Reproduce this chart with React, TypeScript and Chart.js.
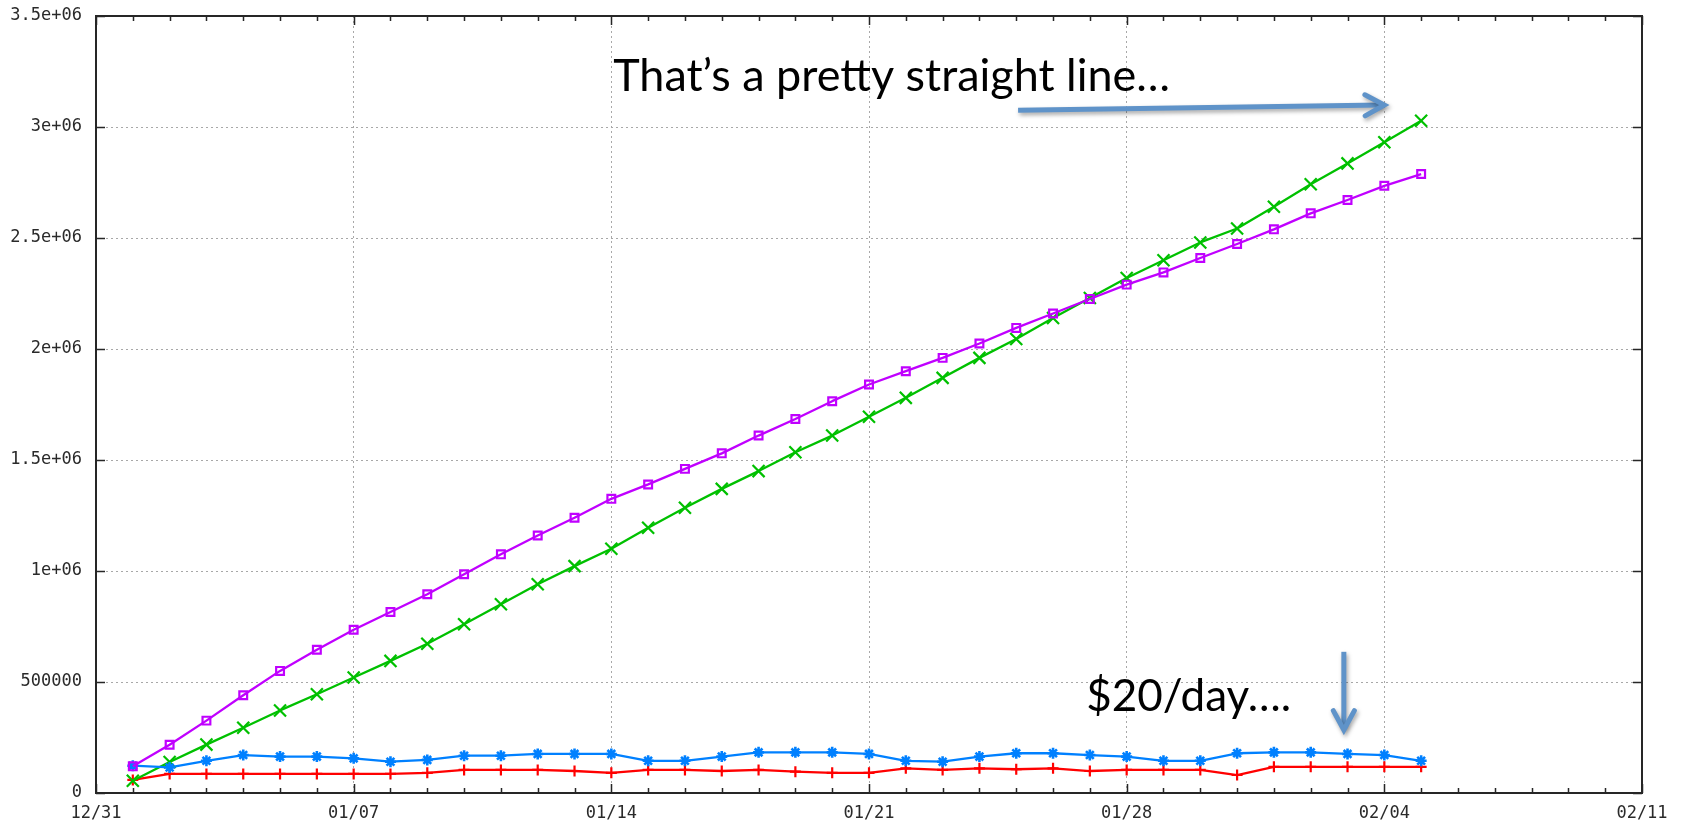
import React, { useEffect, useRef } from 'react';
import { Chart, registerables } from 'chart.js';

Chart.register(...registerables);

// ---- data ----
const dates = [
  '01/01', '01/02', '01/03', '01/04', '01/05', '01/06', '01/07', '01/08', '01/09', '01/10',
  '01/11', '01/12', '01/13', '01/14', '01/15', '01/16', '01/17', '01/18', '01/19', '01/20',
  '01/21', '01/22', '01/23', '01/24', '01/25', '01/26', '01/27', '01/28', '01/29', '01/30',
  '01/31', '02/01', '02/02', '02/03', '02/04', '02/05',
];

const redSeries = [
  59000, 86000, 86000, 86000, 86000, 86000, 86000, 86000, 91000, 104000,
  104000, 104000, 99000, 91000, 104000, 104000, 99000, 104000, 96000, 91000,
  91000, 111000, 104000, 111000, 107000, 111000, 99000, 104000, 104000, 104000,
  81000, 118000, 118000, 118000, 118000, 118000,
];

const greenSeries = [
  55000, 140000, 218000, 294000, 372000, 445000, 520000, 595000, 672000, 760000,
  850000, 940000, 1022000, 1100000, 1195000, 1285000, 1370000, 1450000, 1535000, 1610000,
  1695000, 1780000, 1870000, 1960000, 2045000, 2140000, 2230000, 2320000, 2400000, 2480000,
  2543000, 2641000, 2742000, 2836000, 2931000, 3028000,
];

const blueSeries = [
  123000, 115000, 145000, 171000, 164000, 164000, 156000, 141000, 149000, 168000,
  168000, 176000, 176000, 176000, 145000, 145000, 164000, 183000, 183000, 183000,
  176000, 145000, 141000, 164000, 179000, 179000, 171000, 164000, 145000, 145000,
  179000, 183000, 183000, 176000, 171000, 145000,
];

const purpleSeries = [
  120000, 217000, 326000, 440000, 550000, 645000, 735000, 815000, 895000, 985000,
  1075000, 1160000, 1240000, 1325000, 1390000, 1460000, 1530000, 1610000, 1685000, 1765000,
  1840000, 1900000, 1960000, 2025000, 2095000, 2160000, 2225000, 2290000, 2345000, 2410000,
  2473000, 2539000, 2611000, 2671000, 2735000, 2788000,
];

const xTickLabels = ['12/31', '01/07', '01/14', '01/21', '01/28', '02/04', '02/11'];
const yTickLabels = ['0', '500000', '1e+06', '1.5e+06', '2e+06', '2.5e+06', '3e+06', '3.5e+06'];

// ---- helpers ----
const ORIGIN = Date.UTC(2012, 11, 31);
function dayOffset(label: string): number {
  const [m, d] = label.split('/').map(Number);
  const year = m === 12 ? 2012 : 2013;
  return Math.round((Date.UTC(year, m - 1, d) - ORIGIN) / 86400000);
}
const X_MAX = dayOffset('02/11');
const toPoints = (vals: number[]) => vals.map((v, i) => ({ x: dayOffset(dates[i]), y: v }));

const TEXT_COLOR = '#2a2a2a';
const ARROW_COLOR = '#5f93c9';

const annotationTexts = [
  { text: 'That\u2019s a pretty straight line\u2026', x: 14.05, y: 3160000, width: 557 },
  { text: '$20/day\u2026.', x: 26.9, y: 368000, width: 205 },
];
const annotationArrows = [
  { from: [25.05, 3076000], to: [35.0, 3099000] },
  { from: [33.9, 636000], to: [33.9, 284000] },
];

const framePlugin = {
  id: 'gnuFrame',
  beforeDatasetsDraw(chart: any) {
    const { ctx, chartArea: a, scales } = chart;
    const xs = scales.x;
    const ys = scales.y;
    ctx.save();
    ctx.strokeStyle = '#262626';
    ctx.lineWidth = 1.5;
    ctx.beginPath();
    for (let d = xs.min; d <= xs.max; d++) {
      const px = Math.round(xs.getPixelForValue(d)) + 0.5;
      const len = d % 7 === 0 ? 9 : 5;
      ctx.moveTo(px, a.bottom);
      ctx.lineTo(px, a.bottom - len);
      ctx.moveTo(px, a.top);
      ctx.lineTo(px, a.top + len);
    }
    for (const t of ys.ticks) {
      const py = Math.round(ys.getPixelForValue(t.value)) + 0.5;
      ctx.moveTo(a.left, py);
      ctx.lineTo(a.left + 9, py);
      ctx.moveTo(a.right, py);
      ctx.lineTo(a.right - 9, py);
    }
    ctx.stroke();
    ctx.lineWidth = 2;
    ctx.strokeRect(a.left, a.top, a.right - a.left, a.bottom - a.top);
    ctx.restore();
  },
};

const annotationPlugin = {
  id: 'slideNotes',
  afterDraw(chart: any) {
    const { ctx, scales } = chart;
    const xs = scales.x;
    const ys = scales.y;
    ctx.save();
    ctx.fillStyle = '#000000';
    ctx.textBaseline = 'alphabetic';
    ctx.textAlign = 'left';
    for (const n of annotationTexts) {
      ctx.font = '100px Lato';
      const w = ctx.measureText(n.text).width;
      const size = (100 * n.width) / w;
      ctx.font = `${size}px Lato`;
      ctx.fillText(n.text, xs.getPixelForValue(n.x), ys.getPixelForValue(n.y));
    }
    ctx.strokeStyle = ARROW_COLOR;
    ctx.lineWidth = 5;
    ctx.shadowColor = 'rgba(0,0,0,0.35)';
    ctx.shadowBlur = 4;
    ctx.shadowOffsetX = 1.5;
    ctx.shadowOffsetY = 2.5;
    for (const ar of annotationArrows) {
      const x1 = xs.getPixelForValue(ar.from[0]);
      const y1 = ys.getPixelForValue(ar.from[1]);
      const x2 = xs.getPixelForValue(ar.to[0]);
      const y2 = ys.getPixelForValue(ar.to[1]);
      const ang = Math.atan2(y2 - y1, x2 - x1);
      const head = 22;
      const spread = 0.5;
      ctx.lineCap = 'butt';
      ctx.beginPath();
      ctx.moveTo(x1, y1);
      ctx.lineTo(x2 - Math.cos(ang) * 3, y2 - Math.sin(ang) * 3);
      ctx.stroke();
      ctx.lineCap = 'round';
      ctx.lineJoin = 'miter';
      ctx.beginPath();
      ctx.moveTo(x2 - head * Math.cos(ang - spread), y2 - head * Math.sin(ang - spread));
      ctx.lineTo(x2, y2);
      ctx.lineTo(x2 - head * Math.cos(ang + spread), y2 - head * Math.sin(ang + spread));
      ctx.stroke();
    }
    ctx.restore();
  },
};

export default function App() {
  const canvasRef = useRef<HTMLCanvasElement | null>(null);

  useEffect(() => {
    const canvas = canvasRef.current;
    if (!canvas) return;
    const common = {
      showLine: true,
      tension: 0,
      borderWidth: 2.3,
      pointBorderWidth: 2.2,
      pointBackgroundColor: 'rgba(0,0,0,0)',
      fill: false,
    };
    const chart = new Chart(canvas, {
      type: 'line',
      data: {
        datasets: [
          {
            ...common,
            label: 'series 4',
            data: toPoints(purpleSeries),
            borderColor: '#c000ff',
            pointBorderColor: '#c000ff',
            pointStyle: 'rect',
            pointRadius: 5.5,
          },
          {
            ...common,
            label: 'series 3',
            data: toPoints(blueSeries),
            borderColor: '#0080ff',
            pointBorderColor: '#0080ff',
            pointStyle: 'star',
            pointRadius: 5.5,
            pointBorderWidth: 2.6,
          },
          {
            ...common,
            label: 'series 2',
            data: toPoints(greenSeries),
            borderColor: '#00c000',
            pointBorderColor: '#00c000',
            pointStyle: 'crossRot',
            pointRadius: 8.5,
          },
          {
            ...common,
            label: 'series 1',
            data: toPoints(redSeries),
            borderColor: '#ff0000',
            pointBorderColor: '#ff0000',
            pointStyle: 'cross',
            pointRadius: 5.5,
          },
        ],
      },
      options: {
        responsive: false,
        animation: false,
        devicePixelRatio: 1,
        layout: { padding: { top: 16, right: 46, left: 0, bottom: 0 } },
        plugins: {
          legend: { display: false },
          tooltip: { enabled: false },
          title: { display: false },
        },
        elements: { line: { borderCapStyle: 'butt', borderJoinStyle: 'round' } },
        scales: {
          x: {
            type: 'linear',
            min: 0,
            max: X_MAX,
            ticks: {
              stepSize: 7,
              autoSkip: false,
              maxRotation: 0,
              padding: 10,
              color: TEXT_COLOR,
              font: { family: 'DejaVu Sans Mono', size: 17 },
              callback: (v: any) => xTickLabels[Math.round(Number(v) / 7)] ?? '',
            },
            grid: { drawTicks: false, color: '#a8a8a8', lineWidth: 1 },
            border: { display: false, dash: [2, 3] },
            afterFit: (s: any) => {
              s.height = 32;
            },
          },
          y: {
            type: 'linear',
            min: 0,
            max: 3500000,
            ticks: {
              stepSize: 500000,
              padding: 14,
              color: TEXT_COLOR,
              font: { family: 'DejaVu Sans Mono', size: 17, lineHeight: 0.01 },
              callback: (v: any) => yTickLabels[Math.round(Number(v) / 500000)] ?? '',
            },
            grid: { drawTicks: false, color: '#a8a8a8', lineWidth: 1 },
            border: { display: false, dash: [2, 3] },
            afterFit: (s: any) => {
              s.width = 96;
            },
          },
        },
      },
      plugins: [framePlugin, annotationPlugin],
    } as any);
    return () => chart.destroy();
  }, []);

  return (
    <div style={{ position: 'absolute', left: 0, top: 0, width: 1688, height: 825, background: '#ffffff' }}>
      <canvas ref={canvasRef} width={1688} height={825} style={{ display: 'block' }} />
    </div>
  );
}
